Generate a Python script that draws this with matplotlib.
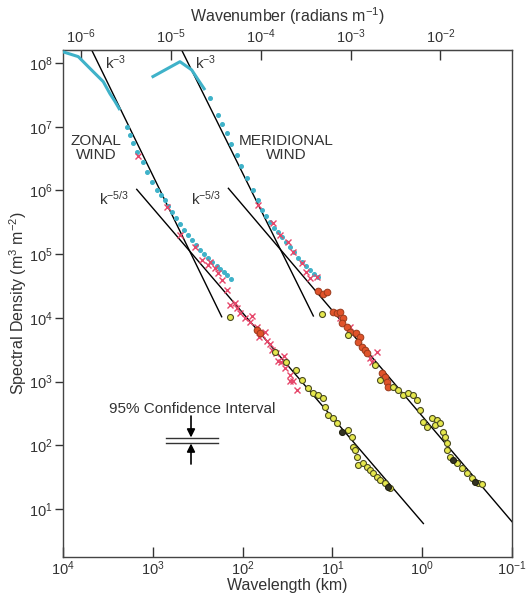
import numpy as np
import matplotlib
matplotlib.use("Agg")
import matplotlib.pyplot as plt
from matplotlib.ticker import FixedLocator, NullLocator

plt.rcParams['font.family'] = ['Liberation Sans', 'DejaVu Sans']
plt.rcParams['mathtext.fontset'] = 'custom'
plt.rcParams['mathtext.rm'] = 'Liberation Sans'
plt.rcParams['mathtext.it'] = 'Liberation Sans:italic'
plt.rcParams['mathtext.bf'] = 'Liberation Sans:bold'

# wavelength in km, spectral density in m^3 m^-2
# zonal wind, aircraft (cyan): continuous part then dots
zon_cyan_line_wl = [10000, 6760, 4600, 3560, 3000, 2640, 2320]
zon_cyan_line_s = [1.5e8, 1.26e8, 7.3e7, 5.1e7, 3.3e7, 2.5e7, 1.83e7]
zon_cyan_wl = [1950, 1790, 1670, 1510, 1275, 1150, 1030, 905, 800, 731, 670,
               611, 550, 498, 450, 406, 365, 330, 300, 269, 240, 219, 195,
               179, 160, 149, 135]
zon_cyan_s = [1.0e7, 7.4e6, 5.5e6, 4.05e6, 2.8e6, 1.97e6, 1.37e6, 1.01e6,
              8.6e5, 7.06e5, 5.7e5, 4.58e5, 3.7e5, 2.97e5, 2.4e5, 2.0e5,
              1.65e5, 1.39e5, 1.18e5, 1.0e5, 8.6e4, 7.5e4, 6.6e4, 5.8e4,
              5.2e4, 4.7e4, 4.1e4]
# zonal wind, red crosses
zon_red_wl = [1472, 700, 498, 339, 285, 241, 203, 171, 150, 138, 122, 107,
              94, 83, 70, 61, 53.5, 47.1, 42.5, 37.3, 33.7, 29.6, 27.5, 24.8,
              29.6, 66, 50, 40, 230, 190, 115, 78, 57, 35]
zon_red_s = [3.47e6, 5.55e5, 2.0e5, 1.29e5, 8.1e4, 6.7e4, 6.0e4, 3.9e4,
             2.73e4, 1.59e4, 1.69e4, 1.18e4, 9.8e3, 8.7e3, 7.2e3, 5.4e3,
             4.3e3, 3.1e3, 2.8e3, 2.0e3, 1.63e3, 1.26e3, 1.02e3, 736, 1.02e3,
             5.0e3, 3.9e3, 2.1e3, 7.6e4, 5.0e4, 1.45e4, 1.05e4, 5.9e3,
             2.5e3]
zon_orange_wl = [70, 64]
zon_orange_s = [6.4e3, 5.7e3]
zon_yellow_wl = [138, 43.6, 32.9, 25.4, 22, 18.5, 16.3, 14.4, 12.6, 12.1,
                 11.1, 9.8, 9.0, 6.65, 6.1, 5.85, 5.6, 5.36, 5.15, 4.53, 4.15,
                 3.81, 3.5, 3.21, 2.95, 2.6, 2.28]
zon_yellow_s = [1.04e4, 2.94e3, 2.05e3, 1.52e3, 1.06e3, 782, 653, 614, 545,
                402, 298, 264, 221, 173, 136, 94.6, 84, 66, 48.9, 52, 45.9,
                40.8, 36.2, 32.1, 28.4, 25.2, 21]
zon_dark_wl = [7.9, 2.39]
zon_dark_s = [163, 22.3]

# meridional wind (plotted one decade to the right)
mer_cyan_line_wl = [1030, 498, 369, 311, 262]
mer_cyan_line_s = [5.97e7, 1.05e8, 7.8e7, 5.4e7, 3.77e7]
mer_cyan_wl = [231, 187, 169, 150, 135, 116, 104, 90, 76, 67.4, 61, 55,
               49.5, 45, 40.4, 36, 32.9, 29.5, 26.8, 24, 21.8, 19.6, 17.8,
               16, 14.5]
mer_cyan_s = [2.79e7, 1.53e7, 1.1e7, 7.9e6, 5.35e6, 3.6e6, 2.4e6, 1.55e6,
              1.01e6, 7.06e5, 4.9e5, 3.9e5, 3.2e5, 2.6e5, 2.2e5, 1.85e5,
              1.55e5, 1.28e5, 1.08e5, 8.8e4, 7.5e4, 6.4e4, 5.6e4, 4.9e4,
              4.4e4]
mer_red_wl = [66.8, 45.5, 31, 27.2, 22, 17.8, 15, 8.2, 6.4, 3.8, 3.65, 3.2,
              38, 19.5]
mer_red_s = [5.9e5, 3.05e5, 1.57e5, 1.09e5, 7.2e4, 4.2e4, 4.4e4, 9.9e3,
             7.2e3, 2.3e3, 2.05e3, 2.9e3, 2.0e5, 5.3e4]
mer_orange_wl = [14.5, 12.7, 11.5, 9.8, 9.0, 8.2, 7.6, 7.9, 6.9, 6.4, 5.4,
                 4.9, 5.15, 4.7, 4.3, 4.15, 2.83, 2.6, 2.48, 2.39]
mer_orange_s = [2.64e4, 2.37e4, 2.54e4, 1.25e4, 1.18e4, 1.25e4, 9.8e3,
                8.2e3, 7.2e3, 6.05e3, 5.7e3, 5.05e3, 4.2e3, 3.5e3, 3.1e3,
                2.77e3, 1.35e3, 1.19e3, 993, 828]
mer_yellow_wl = [13.2, 6.65, 3.36, 2.95, 2.1, 1.85, 1.62, 1.43, 1.26, 1.15,
                 1.06, 0.97, 0.89, 0.78, 0.69, 0.72, 0.63, 0.58, 0.557,
                 0.533, 0.533, 0.49, 0.413, 0.363, 0.319, 0.281, 0.237,
                 0.217]
mer_yellow_s = [1.15e4, 5.4e3, 1.82e3, 1.06e3, 828, 736, 614, 653, 614, 513,
                357, 234, 195, 264, 249, 208, 221, 163, 136, 107, 84, 66, 52,
                43.4, 36.2, 30.2, 25.2, 24.3]
mer_dark_wl = [0.45, 0.258]
mer_dark_s = [58.6, 26.7]

# reference slopes: (start, end) pairs
zon_k3_wl, zon_k3_s = [4790, 171], [1.6e8, 1.04e4]
zon_k53_wl, zon_k53_s = [1510, 0.97], [1.04e6, 5.9]
mer_k3_wl, mer_k3_s = [477, 16.3], [1.6e8, 1.07e4]
mer_k53_wl, mer_k53_s = [144, 0.1], [1.08e6, 6.3]

cyan = '#3fb2c9'
red = '#e6476a'
orange = '#e0532a'
yellow = '#e6e84e'
tc = '#333333'

fig = plt.figure(figsize=(5.28, 5.97), dpi=100)
ax = fig.add_axes([0.1193, 0.0670, 0.8504, 0.8492])
ax.set_xscale('log')
ax.set_yscale('log')
ax.set_xlim(1e4, 1e-1)
ax.set_ylim(1.76, 1.6e8)

for wl, s in [(zon_k3_wl, zon_k3_s), (zon_k53_wl, zon_k53_s),
              (mer_k3_wl, mer_k3_s), (mer_k53_wl, mer_k53_s)]:
    ax.plot(wl, s, color='black', lw=1.0, zorder=2)

ax.plot(zon_cyan_line_wl, zon_cyan_line_s, color=cyan, lw=2.2,
        solid_capstyle='butt', zorder=3)
ax.plot(mer_cyan_line_wl, mer_cyan_line_s, color=cyan, lw=2.2,
        solid_capstyle='butt', zorder=3)
for wl, s in [(zon_cyan_wl, zon_cyan_s), (mer_cyan_wl, mer_cyan_s)]:
    ax.plot(wl, s, ls='none', marker='o', ms=2.6, mfc=cyan, mec=cyan,
            zorder=3)
for wl, s in [(zon_red_wl, zon_red_s), (mer_red_wl, mer_red_s)]:
    ax.plot(wl, s, ls='none', marker='x', ms=4.2, mew=1.0, color=red,
            zorder=4)
for wl, s in [(zon_orange_wl, zon_orange_s), (mer_orange_wl, mer_orange_s)]:
    ax.plot(wl, s, ls='none', marker='o', ms=4.8, mfc=orange, mec='#9a3a1c',
            mew=0.7, zorder=5)
for wl, s in [(zon_yellow_wl, zon_yellow_s), (mer_yellow_wl, mer_yellow_s)]:
    ax.plot(wl, s, ls='none', marker='o', ms=4.3, mfc=yellow, mec='#4a4a20',
            mew=0.8, zorder=5)
for wl, s in [(zon_dark_wl, zon_dark_s), (mer_dark_wl, mer_dark_s)]:
    ax.plot(wl, s, ls='none', marker='o', ms=4.3, mfc='#333322',
            mec='#222211', mew=0.8, zorder=6)

# ticks
ax.xaxis.set_major_locator(FixedLocator([1e4, 1e3, 1e2, 1e1, 1e0, 1e-1]))
ax.xaxis.set_minor_locator(NullLocator())
ax.yaxis.set_major_locator(FixedLocator([1e1, 1e2, 1e3, 1e4, 1e5, 1e6,
                                         1e7, 1e8]))
ax.yaxis.set_minor_locator(NullLocator())
ax.tick_params(axis='x', direction='in', length=7, width=1, labelsize=10.5,
               pad=1.5, colors=tc)
ax.tick_params(axis='y', direction='out', length=6, width=1, labelsize=10.5,
               pad=1.5, colors=tc)
for sp in ax.spines.values():
    sp.set_color('#444444')
    sp.set_linewidth(1)


def wl2k(x):
    x = np.asarray(x, dtype=float)
    with np.errstate(divide='ignore'):
        return 2 * np.pi / (x * 1000.0)


secax = ax.secondary_xaxis('top', functions=(wl2k, wl2k))
secax.xaxis.set_major_locator(FixedLocator([1e-6, 1e-5, 1e-4, 1e-3, 1e-2]))
secax.xaxis.set_minor_locator(NullLocator())
secax.tick_params(direction='in', length=7, width=1, labelsize=10.5, pad=3,
                  colors=tc)
secax.spines['top'].set_color('#444444')
secax.set_xlabel(r'Wavenumber (radians m$^{-1}$)', fontsize=11.5,
                 labelpad=4, color=tc)

ax.set_xlabel('Wavelength (km)', fontsize=11.5, labelpad=0, color=tc)
ax.set_ylabel(r'Spectral Density (m$^3$ m$^{-2}$)', fontsize=11.5,
              labelpad=0, color=tc)

ax.text(0.0935, 0.9744, r'k$^{-3}$', transform=ax.transAxes, fontsize=11,
        va='center', color=tc)
ax.text(0.294, 0.9744, r'k$^{-3}$', transform=ax.transAxes, fontsize=11,
        va='center', color=tc)
ax.text(0.080, 0.706, r'k$^{-5/3}$', transform=ax.transAxes, fontsize=11,
        va='center', color=tc)
ax.text(0.284, 0.706, r'k$^{-5/3}$', transform=ax.transAxes, fontsize=11,
        va='center', color=tc)
ax.text(0.0735, 0.8067, 'ZONAL\nWIND', transform=ax.transAxes, fontsize=11,
        ha='center', va='center', linespacing=1.05, color=tc)
ax.text(0.4967, 0.8067, 'MERIDIONAL\nWIND', transform=ax.transAxes,
        fontsize=11, ha='center', va='center', linespacing=1.05, color=tc)

# 95% confidence interval marker
ax.text(0.2873, 0.2919, '95% Confidence Interval', transform=ax.transAxes,
        fontsize=11, ha='center', va='center', color=tc)
ax.plot([0.2294, 0.3452], [0.2347, 0.2347], transform=ax.transAxes,
        color=tc, lw=1)
ax.plot([0.2294, 0.3452], [0.2249, 0.2249], transform=ax.transAxes,
        color=tc, lw=1)
ax.annotate('', xy=(0.2851, 0.2357), xytext=(0.2851, 0.2781),
            xycoords='axes fraction',
            arrowprops=dict(arrowstyle='-|>', color='black', lw=1.2,
                            mutation_scale=12, shrinkA=0, shrinkB=0))
ax.annotate('', xy=(0.2851, 0.2239), xytext=(0.2851, 0.1834),
            xycoords='axes fraction',
            arrowprops=dict(arrowstyle='-|>', color='black', lw=1.2,
                            mutation_scale=12, shrinkA=0, shrinkB=0))

fig.savefig('out.png', dpi=100)
